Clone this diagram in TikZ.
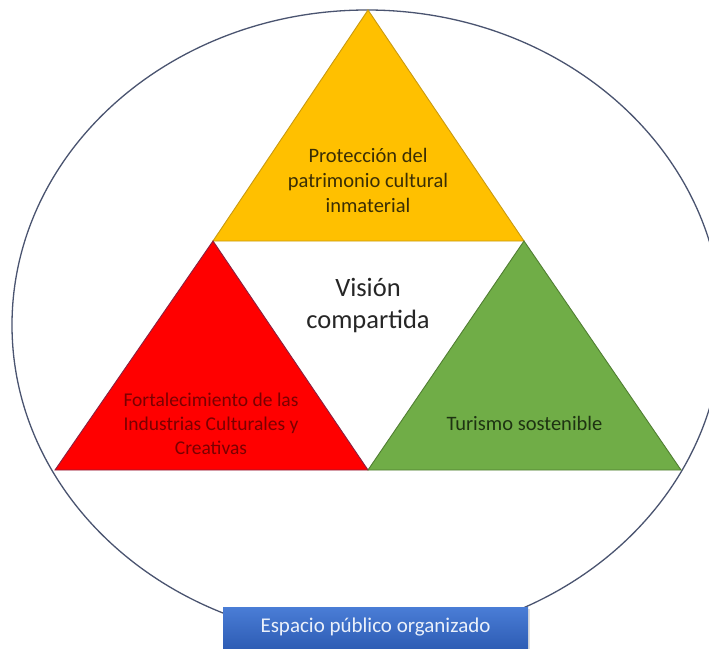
\documentclass[tikz,border=0pt]{standalone}
\usepackage{fontspec}
\setmainfont{Carlito}
\usetikzlibrary{shadows}
\definecolor{ringc}{HTML}{4A5470}
\definecolor{yel}{HTML}{FFC000}
\definecolor{yelline}{HTML}{C99A10}
\definecolor{redf}{HTML}{FF0000}
\definecolor{redline}{HTML}{8A2040}
\definecolor{grn}{HTML}{70AD47}
\definecolor{grnline}{HTML}{507E32}
\definecolor{ytext}{HTML}{3A2E05}
\definecolor{rtext}{HTML}{7A0000}
\definecolor{gtext}{HTML}{1E3312}
\definecolor{vtext}{HTML}{262626}
\definecolor{boxtop}{HTML}{4A7DD6}
\definecolor{boxbot}{HTML}{2E5DB5}
\definecolor{boxtext}{HTML}{EAF0FA}
\tikzset{
  tri/.style={line width=0.9pt, line join=miter},
  lbl/.style={align=center, inner sep=0pt},
  smallfont/.style={font=\fontsize{20.5}{25}\selectfont},
}
\begin{document}
\begin{tikzpicture}[x=1pt,y=-1pt]
\useasboundingbox (0,0) rectangle (709,648);
\fill[white] (0,0) rectangle (709,648);
\begin{scope}
\clip (0,0) rectangle (709,648);
\draw[ringc, line width=1.3pt] (367,325) ellipse [x radius=355, y radius=315];
\end{scope}
% vertices
\coordinate (top) at (368,10);
\coordinate (ml) at (213,241);
\coordinate (mr) at (524,241);
\coordinate (bl) at (55,470);
\coordinate (bm) at (368,470);
\coordinate (br) at (681,470);
\filldraw[tri, fill=yel, draw=yelline] (top) -- (mr) -- (ml) -- cycle;
\filldraw[tri, fill=redf, draw=redline] (ml) -- (bm) -- (bl) -- cycle;
\filldraw[tri, fill=grn, draw=grnline] (mr) -- (br) -- (bm) -- cycle;
% labels
\node[lbl, smallfont, text=ytext] (prot) at (368,180) {Protección del\\patrimonio cultural\\inmaterial};
\node[lbl, font=\fontsize{19.5}{24}\selectfont, text=rtext] (fort) at (211,424) {Fortalecimiento de las\\Industrias Culturales y\\Creativas};
\node[lbl, smallfont, text=gtext] (tur) at (524.5,423) {Turismo sostenible};
\node[lbl, font=\fontsize{26.5}{32}\selectfont, text=vtext] (vis) at (368,306) {Visión\\compartida};
% box
\node[minimum width=305pt, minimum height=41pt, inner sep=0pt,
      top color=boxtop, bottom color=boxbot, draw=none,
      drop shadow={opacity=0.25, shadow xshift=2pt, shadow yshift=-2pt},
      text=boxtext, font=\fontsize{21}{25}\selectfont] (esp) at (375.5,627.5) {Espacio público organizado};
\end{tikzpicture}
\end{document}
